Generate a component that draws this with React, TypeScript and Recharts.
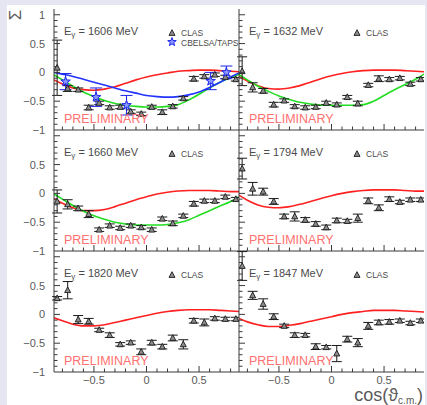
import React from "react";
import { ComposedChart, XAxis, YAxis, Line, Scatter, ErrorBar } from "recharts";

// CLAS bins in cos(theta_cm) and model curve sampling points
const cosBins = [-0.85, -0.75, -0.65, -0.55, -0.45, -0.35, -0.25, -0.15, -0.05, 0.05, 0.15, 0.25, 0.35, 0.45, 0.55, 0.65, 0.75, 0.85];
const curveCos = [-0.88, -0.8, -0.7, -0.6, -0.5, -0.4, -0.3, -0.2, -0.1, 0, 0.1, 0.2, 0.3, 0.4, 0.5, 0.6, 0.7, 0.8, 0.88];

const energies = [1606, 1632, 1660, 1794, 1820, 1847];

// CLAS Sigma values + errors
const clas1606 = [0.08, -0.28, -0.30, -0.61, -0.53, -0.61, -0.60, -0.68, -0.72, -0.60, -0.69, -0.59, -0.45, -0.11, -0.07, -0.04, -0.08, -0.12];
const clas1606Err = [0.48, 0.05, 0.03, 0.04, 0.03, 0.03, 0.03, 0.03, 0.03, 0.03, 0.04, 0.03, 0.03, 0.04, 0.03, 0.03, 0.03, 0.03];
const clas1632 = [0.02, -0.26, -0.32, -0.56, -0.49, -0.59, -0.61, -0.60, -0.53, -0.56, -0.43, -0.54, -0.22, -0.11, -0.12, -0.10, -0.20, -0.12];
const clas1632Err = [0.25, 0.08, 0.04, 0.04, 0.03, 0.03, 0.03, 0.03, 0.03, 0.03, 0.03, 0.04, 0.03, 0.05, 0.03, 0.03, 0.03, 0.03];
const clas1660 = [-0.14, -0.19, -0.26, -0.36, -0.63, -0.56, -0.60, -0.56, -0.59, -0.63, -0.44, -0.52, -0.39, -0.18, -0.13, -0.13, -0.06, -0.10];
const clas1660Err = [0.2, 0.08, 0.04, 0.06, 0.03, 0.03, 0.03, 0.03, 0.03, 0.03, 0.03, 0.04, 0.03, 0.04, 0.03, 0.03, 0.03, 0.03];
const clas1794 = [0.43, 0.08, 0.03, -0.14, -0.40, -0.40, -0.46, -0.53, -0.59, -0.47, -0.48, -0.43, -0.13, -0.25, -0.10, -0.15, -0.11, -0.11];
const clas1794Err = [0.18, 0.11, 0.06, 0.05, 0.04, 0.08, 0.04, 0.04, 0.04, 0.04, 0.03, 0.07, 0.05, 0.05, 0.04, 0.03, 0.03, 0.03];
const clas1820 = [0.28, 0.42, -0.09, -0.12, -0.27, -0.36, -0.52, -0.49, -0.65, -0.49, -0.56, -0.41, -0.52, -0.11, -0.14, -0.07, -0.08, -0.08];
const clas1820Err = [0.03, 0.15, 0.07, 0.05, 0.03, 0.04, 0.03, 0.03, 0.05, 0.04, 0.04, 0.05, 0.08, 0.04, 0.06, 0.03, 0.03, 0.03];
const clas1847 = [0.84, 0.33, 0.18, -0.04, -0.20, -0.36, -0.36, -0.56, -0.57, -0.68, -0.43, -0.49, -0.20, -0.14, -0.13, -0.11, -0.15, -0.11];
const clas1847Err = [0.25, 0.07, 0.09, 0.05, 0.03, 0.04, 0.03, 0.05, 0.03, 0.14, 0.05, 0.07, 0.06, 0.04, 0.04, 0.03, 0.03, 0.03];

// CBELSA/TAPS points at 1606 MeV
const cbCos = [-0.77, -0.48, -0.19, 0.61, 0.76];
const cb1606 = [-0.16, -0.43, -0.57, -0.15, 0.0];
const cb1606Err = [0.14, 0.16, 0.17, 0.15, 0.11];

// model curves
const red1606 = [-0.13, -0.20, -0.27, -0.30, -0.31, -0.29, -0.25, -0.19, -0.13, -0.08, -0.04, -0.01, 0.02, 0.03, 0.04, 0.04, 0.03, 0.02, 0.01];
const green1606 = [-0.04, -0.13, -0.24, -0.34, -0.42, -0.49, -0.54, -0.57, -0.59, -0.60, -0.60, -0.59, -0.56, -0.48, -0.38, -0.27, -0.17, -0.09, -0.03];
const blue1606 = [0.0, -0.03, -0.07, -0.12, -0.17, -0.22, -0.27, -0.32, -0.36, -0.40, -0.42, -0.43, -0.42, -0.39, -0.34, -0.26, -0.17, -0.08, -0.01];
const red1632 = [-0.07, -0.15, -0.23, -0.28, -0.29, -0.27, -0.23, -0.17, -0.11, -0.06, -0.02, 0.01, 0.03, 0.04, 0.04, 0.04, 0.03, 0.02, 0.01];
const green1632 = [-0.04, -0.13, -0.24, -0.33, -0.41, -0.47, -0.52, -0.55, -0.57, -0.57, -0.57, -0.57, -0.56, -0.50, -0.40, -0.30, -0.21, -0.12, -0.03];
const red1660 = [-0.09, -0.17, -0.25, -0.30, -0.30, -0.28, -0.23, -0.17, -0.11, -0.06, -0.01, 0.02, 0.04, 0.05, 0.05, 0.05, 0.04, 0.03, 0.03];
const green1660 = [-0.01, -0.10, -0.21, -0.31, -0.39, -0.45, -0.50, -0.53, -0.55, -0.55, -0.55, -0.54, -0.51, -0.46, -0.38, -0.30, -0.22, -0.14, -0.06];
const red1794 = [-0.03, -0.12, -0.20, -0.24, -0.25, -0.23, -0.19, -0.14, -0.09, -0.04, 0.0, 0.03, 0.05, 0.06, 0.06, 0.06, 0.05, 0.04, 0.04];
const red1820 = [-0.06, -0.11, -0.17, -0.20, -0.20, -0.18, -0.14, -0.10, -0.06, -0.02, 0.02, 0.05, 0.07, 0.08, 0.08, 0.08, 0.07, 0.06, 0.05];
const red1847 = [-0.07, -0.13, -0.18, -0.21, -0.21, -0.19, -0.16, -0.12, -0.08, -0.04, 0.0, 0.03, 0.05, 0.07, 0.07, 0.07, 0.06, 0.05, 0.04];

// ticks
const xTicks = [-0.8, -0.7, -0.6, -0.5, -0.4, -0.3, -0.2, -0.1, 0, 0.1, 0.2, 0.3, 0.4, 0.5, 0.6, 0.7, 0.8];
const yTicks = [-1, -0.9, -0.8, -0.7, -0.6, -0.5, -0.4, -0.3, -0.2, -0.1, 0, 0.1, 0.2, 0.3, 0.4, 0.5, 0.6, 0.7, 0.8, 0.9, 1];
const xLabels = [-0.5, 0, 0.5];
const yLabelsTop = [1, 0.5, 0, -0.5, -1];
const yLabels = [0.5, 0, -0.5, -1];

const X_DOMAIN = [-0.88, 0.88];
const Y_DOMAIN = [-1, 1.1];

const PLOT_X0 = 54;
const COL_W = 185;
const ROW_Y0 = 9;
const ROW_H = 121;
const AXIS_W = 46;
const AXIS_H = 24;

const FRAME = "#3a3a3a";
const TXT = "#5a5a5a";
const FONT = "'Liberation Sans', Arial, sans-serif";

const toPts = (xs: number[], ys: number[], errs?: number[]) =>
  xs.map((x, i) => ({ x, y: ys[i], err: errs ? errs[i] : 0 }));

const panels = [
  { e: energies[0], clas: clas1606, err: clas1606Err, red: red1606, green: green1606, blue: blue1606, stars: true },
  { e: energies[1], clas: clas1632, err: clas1632Err, red: red1632, green: green1632 },
  { e: energies[2], clas: clas1660, err: clas1660Err, red: red1660, green: green1660 },
  { e: energies[3], clas: clas1794, err: clas1794Err, red: red1794 },
  { e: energies[4], clas: clas1820, err: clas1820Err, red: red1820 },
  { e: energies[5], clas: clas1847, err: clas1847Err, red: red1847 },
];

const isMajor = (v: number) => Math.abs(v * 2 - Math.round(v * 2)) < 1e-6;
const fmt = (v: number) => (v < 0 ? "\u2212" : "") + String(Math.abs(v));
const has = (arr: number[], v: number) => arr.some((a) => Math.abs(a - v) < 1e-6);

const tickLen = (v: number) => (isMajor(v) ? 6 : 3.5);

const leftTick = (labels: number[]) => (p: any) => {
  const v = p.payload.value;
  return (
    <g>
      {v > -0.999 && <line x1={p.x} x2={p.x + tickLen(v)} y1={p.y} y2={p.y} stroke={FRAME} />}
      {has(labels, v) && (
        <text x={p.x - 9} y={p.y} dy="0.36em" textAnchor="end" fontSize={11} fill={TXT} fontFamily={FONT}>
          {fmt(v)}
        </text>
      )}
    </g>
  );
};
const rightTick = (p: any) => {
  const v = p.payload.value;
  if (v < -0.999) return <g />;
  return <line x1={p.x} x2={p.x - tickLen(v)} y1={p.y} y2={p.y} stroke={FRAME} />;
};
const bottomTick = (labels: number[]) => (p: any) => {
  const v = p.payload.value;
  return (
    <g>
      <line x1={p.x} x2={p.x} y1={p.y} y2={p.y - tickLen(v)} stroke={FRAME} />
      {has(labels, v) && (
        <text x={p.x} y={p.y + 12} textAnchor="middle" fontSize={11} fill={TXT} fontFamily={FONT}>
          {fmt(v)}
        </text>
      )}
    </g>
  );
};
const topTick = (p: any) => {
  const v = p.payload.value;
  return <line x1={p.x} x2={p.x} y1={p.y} y2={p.y + tickLen(v)} stroke={FRAME} />;
};

const Triangle = (p: any) => {
  const { cx, cy } = p;
  if (cx == null || cy == null) return <g />;
  return (
    <polygon
      points={`${cx},${cy - 3.3} ${cx - 3},${cy + 2.4} ${cx + 3},${cy + 2.4}`}
      fill="#8c8c8c"
      stroke="#1a1a1a"
      strokeWidth={0.9}
    />
  );
};

const starPath = (cx: number, cy: number, r1: number, r2: number) => {
  const pts: string[] = [];
  for (let i = 0; i < 10; i++) {
    const r = i % 2 === 0 ? r1 : r2;
    const a = -Math.PI / 2 + (i * Math.PI) / 5;
    pts.push(`${(cx + r * Math.cos(a)).toFixed(2)},${(cy + r * Math.sin(a)).toFixed(2)}`);
  }
  return pts.join(" ");
};

const Star = (p: any) => {
  const { cx, cy } = p;
  if (cx == null || cy == null) return <g />;
  return <polygon points={starPath(cx, cy, 5, 2)} fill="#8a96ff" stroke="#1b24e8" strokeWidth={1} />;
};

function Panel({ idx }: { idx: number }) {
  const cfg: any = panels[idx];
  const col = idx % 2;
  const row = Math.floor(idx / 2);
  const w = COL_W + AXIS_W;
  const h = ROW_H + AXIS_H;
  const clasData = toPts(cosBins, cfg.clas, cfg.err);
  return (
    <div style={{ position: "absolute", left: PLOT_X0 + col * COL_W - AXIS_W, top: ROW_Y0 + row * ROW_H, width: w, height: h }}>
      <ComposedChart width={w} height={h} margin={{ top: 0, right: 0, bottom: 0, left: 0 }}>
        <XAxis
          type="number"
          dataKey="x"
          domain={X_DOMAIN}
          ticks={xTicks}
          interval={0}
          allowDataOverflow
          tickSize={0}
          tickMargin={0}
          height={AXIS_H}
          axisLine={{ stroke: FRAME }}
          tickLine={false}
          tick={bottomTick(row === 2 ? xLabels : [])}
        />
        <XAxis
          xAxisId="top"
          orientation="top"
          type="number"
          dataKey="x"
          domain={X_DOMAIN}
          ticks={xTicks}
          interval={0}
          allowDataOverflow
          tickSize={0}
          tickMargin={0}
          height={0}
          axisLine={{ stroke: FRAME }}
          tickLine={false}
          tick={topTick}
        />
        <YAxis
          type="number"
          domain={Y_DOMAIN}
          ticks={yTicks}
          interval={0}
          allowDataOverflow
          tickSize={0}
          tickMargin={0}
          width={AXIS_W}
          axisLine={{ stroke: FRAME }}
          tickLine={false}
          tick={leftTick(col === 0 ? (row === 0 ? yLabelsTop : yLabels) : [])}
        />
        <YAxis
          yAxisId="right"
          orientation="right"
          type="number"
          domain={Y_DOMAIN}
          ticks={yTicks}
          interval={0}
          allowDataOverflow
          tickSize={0}
          tickMargin={0}
          width={0}
          axisLine={{ stroke: FRAME }}
          tickLine={false}
          tick={rightTick}
        />
        <Line data={toPts(curveCos, cfg.red)} dataKey="y" type="monotone" stroke="#ff2020" strokeWidth={1.6} dot={false} isAnimationActive={false} />
        {cfg.green && (
          <Line data={toPts(curveCos, cfg.green)} dataKey="y" type="monotone" stroke="#22dd22" strokeWidth={1.6} dot={false} isAnimationActive={false} />
        )}
        {cfg.blue && (
          <Line data={toPts(curveCos, cfg.blue)} dataKey="y" type="monotone" stroke="#2233ff" strokeWidth={1.6} dot={false} isAnimationActive={false} />
        )}
        <Scatter data={clasData} dataKey="y" shape={Triangle} isAnimationActive={false}>
          <ErrorBar dataKey="err" direction="y" width={5} stroke="#1a1a1a" strokeWidth={1} isAnimationActive={false} />
        </Scatter>
        {cfg.stars && (
          <Scatter data={toPts(cbCos, cb1606, cb1606Err)} dataKey="y" shape={Star} isAnimationActive={false}>
            <ErrorBar dataKey="err" direction="y" width={6} stroke="#1b24e8" strokeWidth={1} isAnimationActive={false} />
          </Scatter>
        )}
      </ComposedChart>
    </div>
  );
}

function Overlay() {
  return (
    <svg width={427} height={405} style={{ position: "absolute", left: 0, top: 0, pointerEvents: "none" }} fontFamily={FONT}>
      {panels.map((p: any, i) => {
        const col = i % 2;
        const row = Math.floor(i / 2);
        const x0 = PLOT_X0 + col * COL_W;
        const y0 = ROW_Y0 + row * ROW_H;
        const tx = x0 + 118;
        const ty = y0 + 24;
        return (
          <g key={i}>
            <text x={x0 + 10} y={y0 + 26} fontSize={11} fill="#4a4a4a">
              E<tspan fontSize={8} dy={2}>γ</tspan>
              <tspan dy={-2}>{` = ${p.e} MeV`}</tspan>
            </text>
            <polygon points={`${tx},${ty - 3.3} ${tx - 3},${ty + 2.4} ${tx + 3},${ty + 2.4}`} fill="#8c8c8c" stroke="#1a1a1a" strokeWidth={0.9} />
            <text x={x0 + 127} y={y0 + 27} fontSize={8.5} fill="#4a4a4a">CLAS</text>
            {p.stars && (
              <>
                <polygon points={starPath(tx, y0 + 33, 4.5, 1.8)} fill="#8a96ff" stroke="#1b24e8" strokeWidth={1} />
                <text x={x0 + 127} y={y0 + 36.5} fontSize={8.5} fill="#4a4a4a">CBELSA/TAPS</text>
              </>
            )}
            <text x={x0 + 10} y={y0 + 114} fontSize={12.5} fill="#ff7070">PRELIMINARY</text>
          </g>
        );
      })}
      <text x={15} y={15} fontSize={17} fill={TXT} textAnchor="middle" dominantBaseline="central" transform="rotate(-90 15 15) scale(1 1)">
        Σ
      </text>
      <text x={423} y={401} fontSize={18} fill={TXT} textAnchor="end">
        cos(ϑ<tspan fontSize={10} dy={3}>c.m.</tspan>
        <tspan dy={-3}>)</tspan>
      </text>
    </svg>
  );
}

export default function App() {
  return (
    <div style={{ position: "absolute", left: 0, top: 0, width: 427, height: 405, background: "#e6e6f2", overflow: "hidden" }}>
      <div style={{ position: "absolute", left: 7, top: 5, width: 418, height: 400, background: "#ffffff" }} />
      {panels.map((_, i) => (
        <Panel key={i} idx={i} />
      ))}
      <Overlay />
    </div>
  );
}
